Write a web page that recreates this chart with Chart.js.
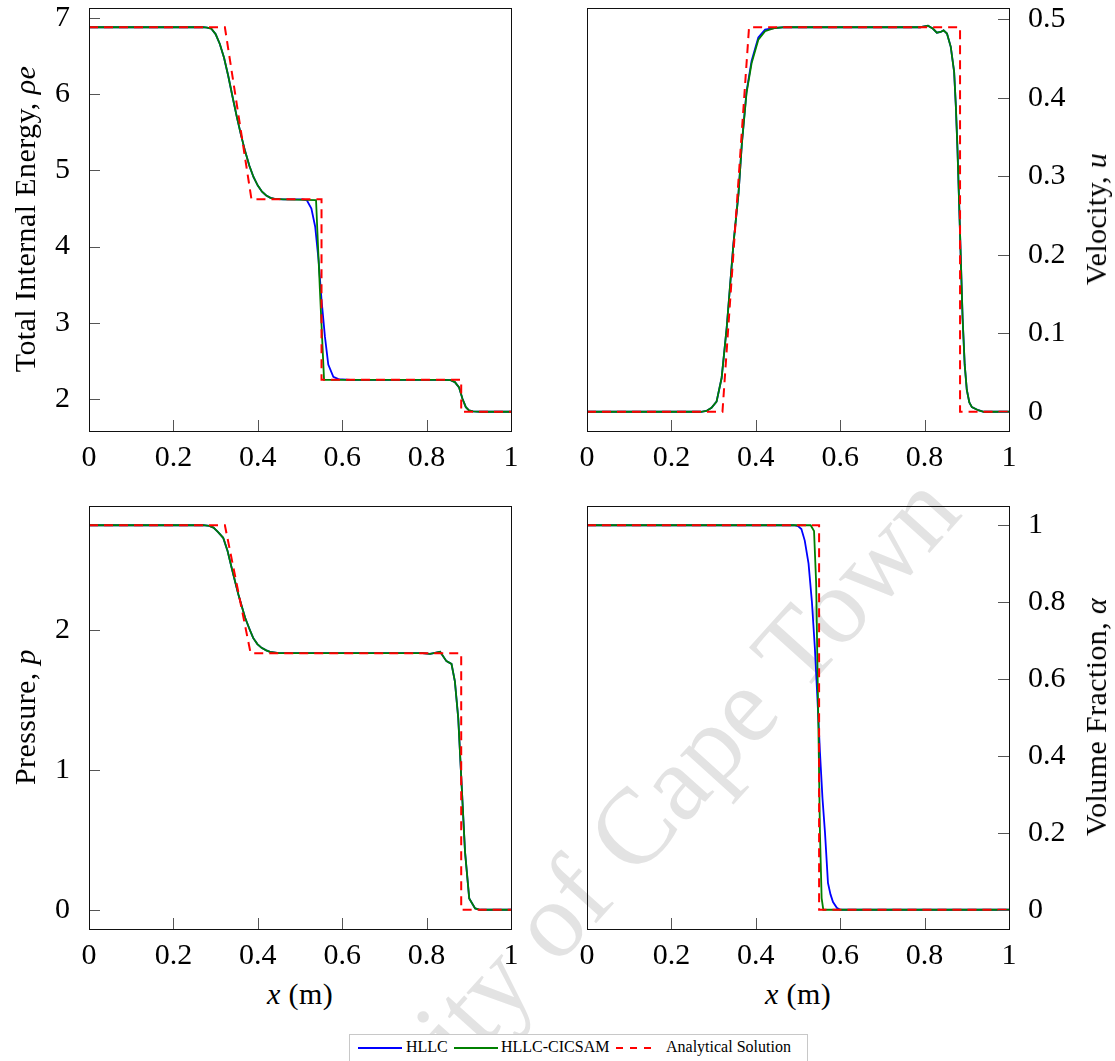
<!DOCTYPE html>
<html>
<head>
<meta charset="utf-8">
<script src="https://cdn.jsdelivr.net/npm/chart.js@4.4.0/dist/chart.umd.min.js"></script>
<style>
  body { margin:0; background:#fff; }
  #page { position:relative; width:1115px; height:1061px; overflow:hidden;
          font-family:"Liberation Serif","DejaVu Serif",serif; color:#000; }
  canvas { position:absolute; z-index:1; }
  .lbl { position:absolute; font-size:30px; white-space:nowrap; z-index:2;
         transform:translate(-50%,-50%); letter-spacing:0.4px; }
  .rot { transform:translate(-50%,-50%) rotate(-90deg); }
  #wm { position:absolute; left:572px; top:896px; font-size:108px; white-space:nowrap;
        color:#e3e3e3; transform:translate(-50%,-50%) rotate(-48deg); z-index:0; }
  #legend { position:absolute; left:349px; top:1034px; width:457px; height:26px;
            border:1px solid #c8c8c8; background:#fff; z-index:3; font-size:16px; }
  #legend .sw { position:absolute; top:12px; height:1.5px; width:44px; }
  #legend .tx { position:absolute; top:3px; white-space:nowrap; }
</style>
</head>
<body>
<div id="page">
  <div id="wm">University of Cape Town</div>

  <canvas id="cEnergy" width="557" height="475" style="left:0;top:0"></canvas>
  <canvas id="cVel" width="558" height="475" style="left:557px;top:0"></canvas>
  <canvas id="cPres" width="557" height="500" style="left:0;top:475px"></canvas>
  <canvas id="cAlpha" width="558" height="500" style="left:557px;top:475px"></canvas>

  <div class="lbl rot" style="left:25px;top:219px">Total Internal Energy, <i>ρe</i></div>
  <div class="lbl rot" style="left:1096px;top:219px">Velocity, <i>u</i></div>
  <div class="lbl rot" style="left:25px;top:717px">Pressure, <i>p</i></div>
  <div class="lbl rot" style="left:1096px;top:717px">Volume Fraction, <i>α</i></div>
  <div class="lbl" style="left:300px;top:994px"><i>x</i> (m)</div>
  <div class="lbl" style="left:798px;top:994px"><i>x</i> (m)</div>

  <div id="legend">
    <span class="sw" style="left:8px;background:#0000ff"></span>
    <span class="tx" style="left:56px">HLLC</span>
    <span class="sw" style="left:104px;background:#008000"></span>
    <span class="tx" style="left:151px">HLLC-CICSAM</span>
    <span class="sw" style="left:266px;width:42px;background:repeating-linear-gradient(to right,#ff0000 0 7px,transparent 7px 14px)"></span>
    <span class="tx" style="left:316px">Analytical Solution</span>
  </div>
</div>

<script>
// ---- tick values ----
const xTicks = [0, 0.2, 0.4, 0.6, 0.8, 1];
const energyTicks = [2, 3, 4, 5, 6, 7];
const velTicks = [0, 0.1, 0.2, 0.3, 0.4, 0.5];
const presTicks = [0, 1, 2];
const alphaTicks = [0, 0.2, 0.4, 0.6, 0.8, 1];

// ---- total internal energy ----
const eAnaX = [0, 0.322, 0.385, 0.551, 0.551, 0.882, 0.882, 1];
const eAnaY = [6.88, 6.88, 4.62, 4.62, 2.25, 2.25, 1.83, 1.83];
const eHllcX = [0, 0.27, 0.28, 0.29, 0.30, 0.31, 0.32, 0.33, 0.34, 0.35, 0.36, 0.37, 0.38, 0.39, 0.40, 0.41, 0.42, 0.43, 0.44, 0.46,
                0.505, 0.516, 0.527, 0.536, 0.544, 0.551, 0.559, 0.567, 0.579, 0.591, 0.62,
                0.84, 0.857, 0.867, 0.877, 0.885, 0.893, 0.90, 0.91, 0.93, 1];
const eHllcY = [6.88, 6.88, 6.875, 6.86, 6.79, 6.66, 6.48, 6.24, 5.97, 5.71, 5.47, 5.25, 5.06, 4.91, 4.80, 4.72, 4.67, 4.64, 4.625, 4.62,
                4.62, 4.61, 4.50, 4.26, 3.82, 3.30, 2.82, 2.45, 2.29, 2.26, 2.25,
                2.25, 2.245, 2.22, 2.15, 2.0, 1.89, 1.85, 1.835, 1.83, 1.83];
const eCicX = [0, 0.27, 0.28, 0.29, 0.30, 0.31, 0.32, 0.33, 0.34, 0.35, 0.36, 0.37, 0.38, 0.39, 0.40, 0.41, 0.42, 0.43, 0.44, 0.46,
               0.538, 0.547, 0.557, 0.62,
               0.84, 0.857, 0.867, 0.877, 0.885, 0.893, 0.90, 0.91, 0.93, 1];
const eCicY = [6.88, 6.88, 6.875, 6.86, 6.79, 6.66, 6.48, 6.24, 5.97, 5.71, 5.47, 5.25, 5.06, 4.91, 4.80, 4.72, 4.67, 4.64, 4.625, 4.62,
               4.61, 3.45, 2.25, 2.25,
               2.25, 2.245, 2.22, 2.15, 2.0, 1.89, 1.85, 1.835, 1.83, 1.83];

// ---- velocity ----
const vAnaX = [0, 0.321, 0.384, 0.884, 0.884, 1];
const vAnaY = [0, 0, 0.49, 0.49, 0, 0];
const vHllcX = [0, 0.27, 0.283, 0.295, 0.307, 0.319, 0.331, 0.347, 0.359, 0.367, 0.378, 0.390, 0.406, 0.422, 0.445, 0.47,
                0.6, 0.75, 0.79, 0.808, 0.82, 0.829, 0.838, 0.845, 0.853, 0.862, 0.870, 0.874, 0.878, 0.884, 0.890,
                0.895, 0.900, 0.906, 0.912, 0.927, 0.94, 1];
const vHllcY = [0, 0, 0.001, 0.005, 0.013, 0.043, 0.107, 0.214, 0.278, 0.342, 0.408, 0.447, 0.477, 0.487, 0.489, 0.49,
                0.49, 0.49, 0.49, 0.492, 0.488, 0.483, 0.484, 0.486, 0.482, 0.465, 0.433, 0.39, 0.333, 0.227, 0.12,
                0.06, 0.028, 0.012, 0.006, 0.002, 0, 0];
const vCicX = [0, 0.27, 0.283, 0.295, 0.307, 0.319, 0.331, 0.347, 0.359, 0.367, 0.378, 0.390, 0.406, 0.422, 0.445, 0.47,
               0.6, 0.75, 0.79, 0.808, 0.82, 0.829, 0.838, 0.845, 0.853, 0.862, 0.870, 0.874, 0.878, 0.884, 0.890,
               0.895, 0.900, 0.906, 0.912, 0.927, 0.94, 1];
const vCicY = [0, 0, 0.001, 0.005, 0.013, 0.043, 0.107, 0.214, 0.278, 0.342, 0.406, 0.444, 0.474, 0.485, 0.489, 0.49,
               0.49, 0.49, 0.49, 0.492, 0.488, 0.483, 0.484, 0.486, 0.482, 0.465, 0.433, 0.39, 0.333, 0.227, 0.12,
               0.06, 0.028, 0.012, 0.006, 0.002, 0, 0];

// ---- pressure ----
const pAnaX = [0, 0.322, 0.383, 0.882, 0.882, 1];
const pAnaY = [2.75, 2.75, 1.835, 1.835, 0, 0];
const pHllcX = [0, 0.27, 0.285, 0.295, 0.306, 0.318, 0.328, 0.338, 0.346, 0.354, 0.362, 0.37, 0.38, 0.389, 0.399, 0.409,
                0.42, 0.429, 0.45, 0.6, 0.79, 0.808, 0.82, 0.832, 0.847, 0.859, 0.867, 0.875, 0.883, 0.891, 0.901,
                0.915, 0.927, 1];
const pHllcY = [2.75, 2.75, 2.745, 2.733, 2.70, 2.66, 2.57, 2.446, 2.35, 2.255, 2.17, 2.088, 2.01, 1.944, 1.90, 1.873,
                1.855, 1.844, 1.836, 1.835, 1.835, 1.83, 1.838, 1.845, 1.778, 1.758, 1.634, 1.37, 0.894, 0.416, 0.081,
                0.01, 0, 0];
const pCicX = pHllcX.slice();
const pCicY = pHllcY.slice();

// ---- volume fraction ----
const aAnaX = [0, 0.55, 0.55, 1];
const aAnaY = [1, 1, 0, 0];
const aHllcX = [0, 0.49, 0.50, 0.508, 0.516, 0.525, 0.533, 0.54, 0.546, 0.552, 0.558, 0.564, 0.571, 0.577, 0.583, 0.592, 0.6, 1];
const aHllcY = [1, 1, 0.998, 0.99, 0.96, 0.9, 0.80, 0.68, 0.55, 0.41, 0.29, 0.2, 0.07, 0.04, 0.02, 0.005, 0, 0];
const aCicX = [0, 0.53, 0.538, 0.543, 0.548, 0.552, 0.556, 0.56, 1];
const aCicY = [1, 1, 0.985, 0.85, 0.5, 0.2, 0.03, 0, 0];

const FONT = { family: '"Liberation Serif", "DejaVu Serif", serif', size: 30 };

function pts(xs, ys) {
  return xs.map((x, i) => ({ x: x, y: ys[i] }));
}

// order: lower number is painted later (on top)
function series(label, xs, ys, color, order, dash) {
  return {
    label: label,
    data: pts(xs, ys),
    borderColor: color,
    borderWidth: dash ? 2 : 1.8,
    borderDash: dash || [],
    pointRadius: 0,
    tension: 0,
    fill: false,
    order: order
  };
}

// frame + inward ticks, like the pgfplots box
const framePlugin = {
  id: 'frame',
  afterDatasetsDraw(chart) {
    const { ctx, chartArea: a, scales } = chart;
    const tl = 11;
    ctx.save();
    ctx.strokeStyle = '#555';
    ctx.lineWidth = 1;
    ctx.beginPath();
    scales.x.ticks.forEach(t => {
      const p = Math.round(scales.x.getPixelForValue(t.value)) + 0.5;
      ctx.moveTo(p, a.bottom);
      ctx.lineTo(p, a.bottom - tl);
    });
    const onRight = scales.y.position === 'right';
    scales.y.ticks.forEach(t => {
      const p = Math.round(scales.y.getPixelForValue(t.value)) + 0.5;
      if (onRight) { ctx.moveTo(a.right, p); ctx.lineTo(a.right - tl, p); }
      else { ctx.moveTo(a.left, p); ctx.lineTo(a.left + tl, p); }
    });
    ctx.stroke();
    ctx.strokeStyle = '#111';
    ctx.strokeRect(Math.round(a.left) + 0.5, Math.round(a.top) + 0.5,
                   Math.round(a.right - a.left), Math.round(a.bottom - a.top));
    ctx.restore();
  }
};

function makeChart(id, cfg) {
  return new Chart(document.getElementById(id), {
    type: 'line',
    data: {
      datasets: [
        series('HLLC', cfg.hx, cfg.hy, '#0000ff', 3),
        series('HLLC-CICSAM', cfg.cx, cfg.cy, '#008000', 2),
        series('Analytical Solution', cfg.ax, cfg.ay, '#ff0000', 1, [9, 6])
      ]
    },
    options: {
      responsive: false,
      animation: false,
      layout: { padding: cfg.pad },
      plugins: { legend: { display: false }, tooltip: { enabled: false } },
      scales: {
        x: {
          type: 'linear', position: 'bottom', min: 0, max: 1,
          grid: { display: false }, border: { display: false },
          afterBuildTicks: s => { s.ticks = xTicks.map(v => ({ value: v })); },
          afterFit: s => { s.height = cfg.xh; s.paddingLeft = 0; s.paddingRight = 0; },
          ticks: { font: FONT, color: '#000', padding: 1, maxRotation: 0, autoSkip: false,
                   callback: v => String(v) }
        },
        y: {
          type: 'linear', position: cfg.side, min: cfg.min, max: cfg.max,
          grid: { display: false }, border: { display: false },
          afterBuildTicks: s => { s.ticks = cfg.ticks.map(v => ({ value: v })); },
          afterFit: s => { s.width = cfg.yw; s.paddingTop = 0; s.paddingBottom = 0; },
          ticks: { font: FONT, color: '#000', padding: 11, autoSkip: false,
                   callback: v => String(v) }
        }
      }
    },
    plugins: [framePlugin]
  });
}

makeChart('cEnergy', {
  hx: eHllcX, hy: eHllcY, cx: eCicX, cy: eCicY, ax: eAnaX, ay: eAnaY,
  side: 'left', min: 1.5775, max: 7.1325, ticks: energyTicks,
  pad: { left: 0, top: 8, right: 46, bottom: 0 }, yw: 89, xh: 44
});
makeChart('cVel', {
  hx: vHllcX, hy: vHllcY, cx: vCicX, cy: vCicY, ax: vAnaX, ay: vAnaY,
  side: 'right', min: -0.0245, max: 0.5145, ticks: velTicks,
  pad: { left: 30, top: 8, right: 0, bottom: 0 }, yw: 106, xh: 44
});
makeChart('cPres', {
  hx: pHllcX, hy: pHllcY, cx: pCicX, cy: pCicY, ax: pAnaX, ay: pAnaY,
  side: 'left', min: -0.1375, max: 2.8875, ticks: presTicks,
  pad: { left: 0, top: 31, right: 46, bottom: 0 }, yw: 89, xh: 46
});
makeChart('cAlpha', {
  hx: aHllcX, hy: aHllcY, cx: aCicX, cy: aCicY, ax: aAnaX, ay: aAnaY,
  side: 'right', min: -0.05, max: 1.05, ticks: alphaTicks,
  pad: { left: 30, top: 31, right: 0, bottom: 0 }, yw: 106, xh: 46
});
</script>
</body>
</html>
